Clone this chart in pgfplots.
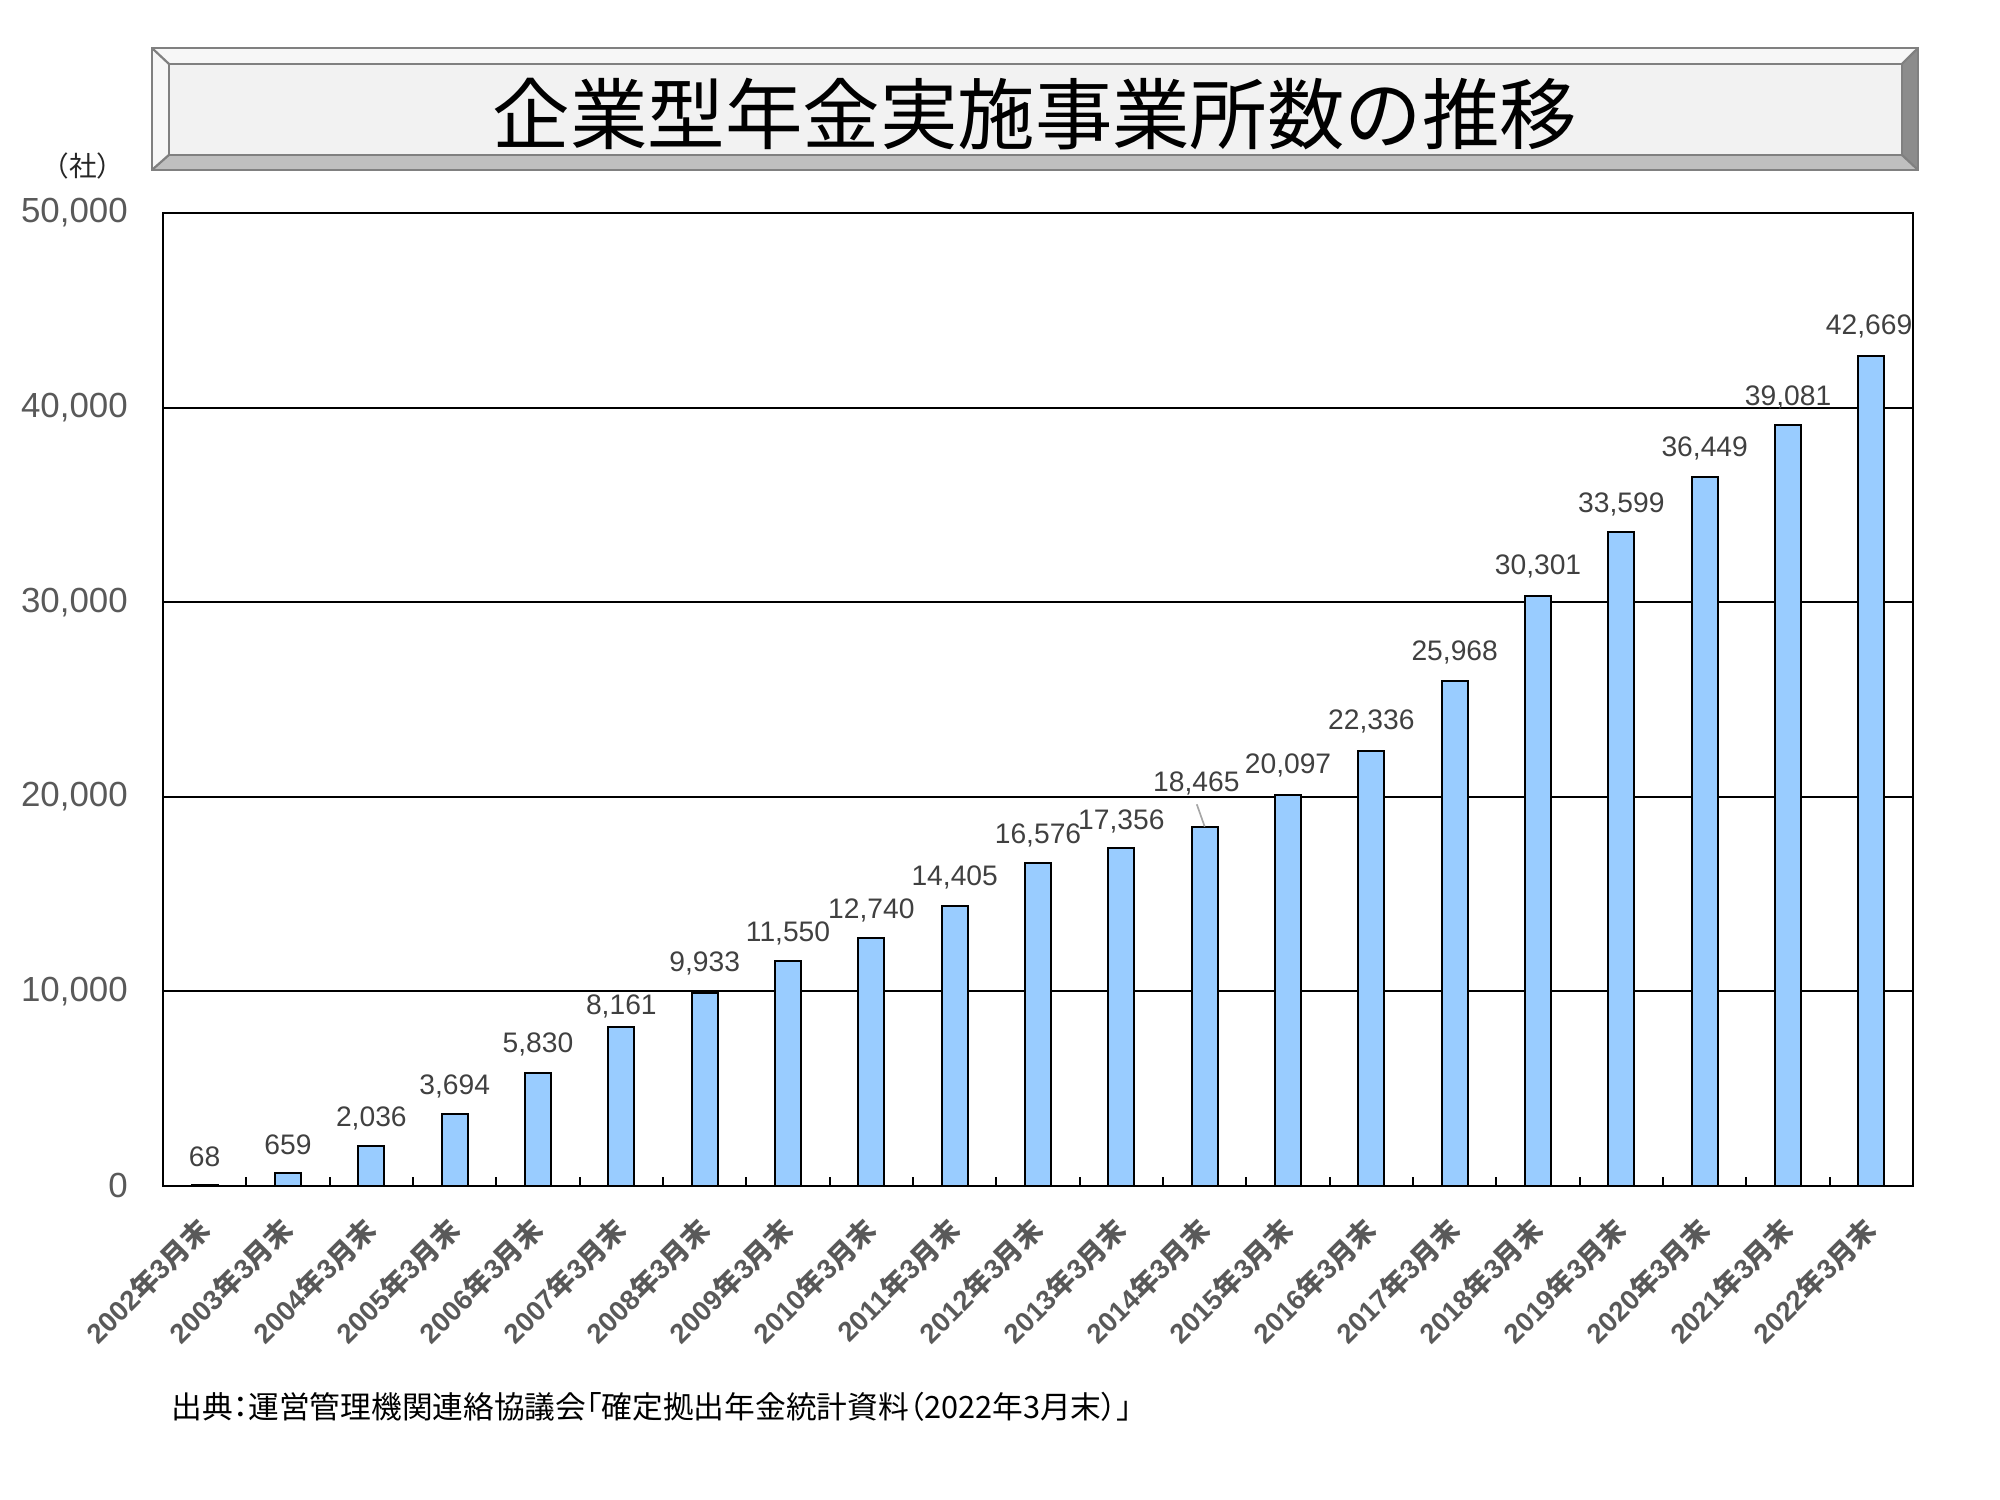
\documentclass[border=0pt]{standalone}
\usepackage{fontspec}
\setmainfont{Liberation Sans}
\newfontfamily\cjk{Noto Sans CJK JP}
\newfontfamily\cjkp[RawFeature=+palt]{Noto Sans CJK JP}
\usepackage{pgfplots}
\pgfplotsset{compat=1.18}
\usepackage{pgfplotstable}
\definecolor{barblue}{HTML}{99CCFF}
\definecolor{ticklab}{HTML}{595959}
\definecolor{datalab}{HTML}{404040}
\definecolor{boxline}{HTML}{808080}
\newcommand{\xl}[1]{#1{\cjk\bfseries 年}3{\cjk\bfseries 月末}}

\pgfplotstableread{
x y dy dx
0 68 10.1 0
1 659 10.1 0
2 2036 10.1 0
3 3694 10.1 0
4 5830 10.1 0
5 8161 7.4 0
6 9933 10.6 0
7 11550 10.1 0
8 12740 10.1 0
9 14405 10.1 0
10 16576 10.1 0
11 17356 9.6 0
12 18465 15.6 -3
13 20097 10.6 0
14 22336 10.6 0
15 25968 10.1 0
16 30301 10.6 0
17 33599 10.1 0
18 36449 10.1 0
19 39081 10.1 0
20 42669 10.6 -0.8
}\datatable

\begin{document}
\begin{tikzpicture}[x=1bp,y=1bp]
\useasboundingbox (0,0) rectangle (720,540);
% title box
\fill[white!97!black] (54.7,522.7) -- (690.5,522.7) -- (684.7,517.0) -- (60.8,517.0) -- cycle;
\fill[white!97!black] (54.7,522.7) -- (60.8,517.0) -- (60.8,484.2) -- (54.7,478.8) -- cycle;
\fill[white!75!black] (54.7,478.8) -- (60.8,484.2) -- (684.7,484.2) -- (690.5,478.8) -- cycle;
\fill[white!55!black] (690.5,478.8) -- (684.7,484.2) -- (684.7,517.0) -- (690.5,522.7) -- cycle;
\fill[white!95!black] (60.8,484.2) rectangle (684.7,517.0);
\draw[boxline, line width=0.8] (54.7,478.8) rectangle (690.5,522.7);
\draw[boxline, line width=0.8] (60.8,484.2) rectangle (684.7,517.0);
\draw[boxline, line width=0.8] (54.7,478.8) -- (60.8,484.2) (54.7,522.7) -- (60.8,517.0)
  (690.5,478.8) -- (684.7,484.2) (690.5,522.7) -- (684.7,517.0);
\node[font=\cjk\fontsize{28}{30}\selectfont, inner sep=0pt] at (372.6,498.8) {企業型年金実施事業所数の推移};
\node[font=\cjk\fontsize{10}{12}\selectfont, inner sep=0pt, text=black!85] at (29.9,480.2) {（社）};
\node[font=\cjkp\fontsize{11.1}{13}\selectfont, inner sep=0pt, anchor=west] at (61.6,33.5) {出典：運営管理機関連絡協議会「確定拠出年金統計資料（2022年3月末）」};

\begin{axis}[
  at={(58.68bp,113.04bp)}, anchor=south west,
  scale only axis, width=630bp, height=350.28bp,
  xmin=-0.5, xmax=20.5, ymin=0, ymax=50000,
  ytick={0,10000,...,50000},
  scaled y ticks=false,
  /pgf/number format/1000 sep={,},
  /pgf/number format/fixed,
  /pgf/number format/assume math mode=true,
  xtick={0,...,20},
  xticklabels={\xl{2002},\xl{2003},\xl{2004},\xl{2005},\xl{2006},\xl{2007},\xl{2008},\xl{2009},\xl{2010},\xl{2011},\xl{2012},\xl{2013},\xl{2014},\xl{2015},\xl{2016},\xl{2017},\xl{2018},\xl{2019},\xl{2020},\xl{2021},\xl{2022}},
  minor x tick num=1,
  xtick pos=left, ytick pos=left,
  tick align=inside,
  major tick length=0pt,
  minor tick length=3.2bp,
  minor tick style={black, line width=0.7bp},
  ymajorgrids,
  grid style={black, line width=0.7bp},
  axis line style={black, line width=0.7bp},
  yticklabel style={font=\fontsize{12.6}{14}\selectfont, text=ticklab, anchor=east, inner sep=0pt, xshift=-12.5bp},
  xticklabel style={font=\bfseries\fontsize{10}{12}\selectfont, text=ticklab, yshift=-13.7bp, rotate=45, anchor=east, inner sep=0pt},
]
\addplot[ybar, bar width=9.4bp, fill=barblue, draw=black, line width=0.7bp,
  point meta=y,
  nodes near coords={\pgfmathprintnumber[1000 sep={,}, fixed, precision=0]{\pgfplotspointmeta}},
  visualization depends on={\thisrow{dy} \as \dy},
  visualization depends on={\thisrow{dx} \as \dx},
  every node near coord/.append style={font=\fontsize{10.2}{12}\selectfont, text=datalab, anchor=center, yshift=\dy bp, xshift=\dx bp, inner sep=0pt},
] table[x=x, y=y] {\datatable};
\draw[black!35, line width=0.6bp] (axis cs:11.905,19615) -- (axis cs:12,18465);
\end{axis}
\end{tikzpicture}
\end{document}
